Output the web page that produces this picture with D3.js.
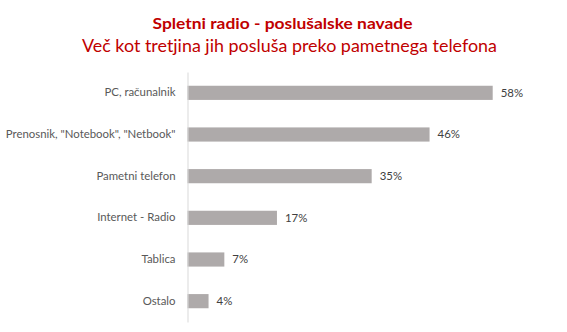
<!DOCTYPE html>
<html>
<head>
<meta charset="utf-8">
<script src="https://cdn.jsdelivr.net/npm/d3@7"></script>
<style>
  html, body { margin: 0; padding: 0; background: #ffffff; }
  svg { display: block; }
</style>
</head>
<body>
<svg id="chart" width="567" height="332"></svg>
<script>
const titleText = "Spletni radio - poslušalske navade";
const subtitleText = "Več kot tretjina jih posluša preko pametnega telefona";
const categories = ["PC, računalnik", "Prenosnik, \"Notebook\", \"Netbook\"", "Pametni telefon", "Internet - Radio", "Tablica", "Ostalo"];
const values = [58, 46, 35, 17, 7, 4];
const valueLabels = ["58%", "46%", "35%", "17%", "7%", "4%"];

const svg = d3.select("#chart");
const fontFamily = "Lato, 'Open Sans', 'Liberation Sans', sans-serif";

svg.append("text")
  .attr("x", 282.5).attr("y", 28.5)
  .attr("text-anchor", "middle")
  .attr("font-family", fontFamily)
  .attr("font-weight", "bold")
  .attr("font-size", 16)
  .attr("fill", "#c00000")
  .attr("textLength", 260).attr("lengthAdjust", "spacingAndGlyphs")
  .text(titleText);

svg.append("text")
  .attr("x", 289.5).attr("y", 52)
  .attr("text-anchor", "middle")
  .attr("font-family", fontFamily)
  .attr("font-size", 18)
  .attr("fill", "#c00000")
  .attr("textLength", 415).attr("lengthAdjust", "spacingAndGlyphs")
  .text(subtitleText);

const x0 = 187.5;
const x = d3.scaleLinear().domain([0, 58]).range([x0, 492.7]);
const y = d3.scaleBand().domain(categories).range([72, 322]).paddingInner(0.66).paddingOuter(0.33);

const data = categories.map((c, i) => ({ c, v: values[i], label: valueLabels[i] }));

svg.selectAll("rect.bar").data(data).enter().append("rect")
  .attr("class", "bar")
  .attr("x", x0)
  .attr("y", d => y(d.c))
  .attr("width", d => x(d.v) - x0)
  .attr("height", y.bandwidth())
  .attr("fill", "#aeaaaa");

const axis = d3.axisLeft(y).tickSize(0).tickPadding(12);
const g = svg.append("g").attr("transform", `translate(${x0},0)`).call(axis);
g.select(".domain").attr("stroke", "#d9d9d9").attr("stroke-width", 1);
g.selectAll("text")
  .attr("font-family", fontFamily)
  .attr("font-size", 11.4)
  .attr("fill", "#595959");

svg.selectAll("text.val").data(data).enter().append("text")
  .attr("class", "val")
  .attr("x", d => x(d.v) + 8)
  .attr("y", d => y(d.c) + y.bandwidth() / 2)
  .attr("dy", "0.35em")
  .attr("font-family", fontFamily)
  .attr("font-size", 11.4)
  .attr("fill", "#404040")
  .text(d => d.label);
</script>
</body>
</html>
